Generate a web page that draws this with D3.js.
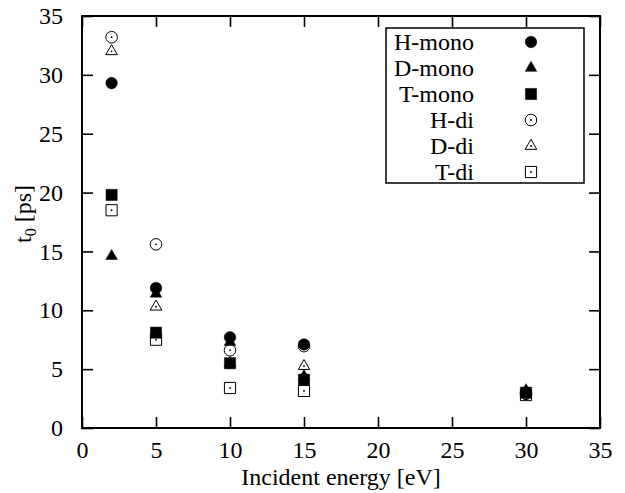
<!DOCTYPE html>
<html>
<head>
<meta charset="utf-8">
<style>
body { margin: 0; background: #fff; }
svg, svg text { font-family: "Liberation Serif", "Times New Roman", serif; }
.axis .domain { display: none; }
.axis line { stroke: #000; stroke-width: 1.6; }
.axis text { font-size: 24px; fill: #000; font-family: "Liberation Serif", "Times New Roman", serif; }
</style>
</head>
<body>
<svg width="625" height="493"></svg>
<script src="https://d3js.org/d3.v7.min.js"></script>
<script>

var energies = [2, 5, 10, 15, 30];
var seriesNames = ["H-mono", "D-mono", "T-mono", "H-di", "D-di", "T-di"];
var hMono = [29.3, 11.9, 7.7, 7.1, 3.0];
var dMono = [14.6, 11.4, 7.3, 4.4, 3.2];
var tMono = [19.8, 8.1, 5.5, 4.1, 3.0];
var hDi = [33.2, 15.6, 6.6, 6.95, 2.9];
var dDi = [32.0, 10.3, 5.5, 5.25, 3.0];
var tDi = [18.5, 7.5, 3.4, 3.15, 2.8];
var xTicks = [0, 5, 10, 15, 20, 25, 30, 35];
var yTicks = [0, 5, 10, 15, 20, 25, 30, 35];

var seriesValues = [hMono, dMono, tMono, hDi, dDi, tDi];
var shapes = ["circle", "triangle", "square", "circle", "triangle", "square"];
var filled = [true, true, true, false, false, false];

var svg = d3.select("svg"),
    margin = {top: 16, right: 25, bottom: 65, left: 82},
    width = +svg.attr("width") - margin.left - margin.right,
    height = +svg.attr("height") - margin.top - margin.bottom,
    g = svg.append("g").attr("transform", "translate(" + margin.left + "," + margin.top + ")");

var x = d3.scaleLinear().domain([0, 35]).range([0, width]);
var y = d3.scaleLinear().domain([0, 35]).range([height, 0]);

// axes with inward ticks, mirrored on top and right
g.append("g")
    .attr("class", "axis")
    .attr("transform", "translate(0," + height + ")")
    .call(d3.axisBottom(x).tickValues(xTicks).tickSize(-11).tickSizeOuter(0).tickPadding(13));
g.append("g")
    .attr("class", "axis")
    .call(d3.axisLeft(y).tickValues(yTicks).tickSize(-11).tickSizeOuter(0).tickPadding(19));
g.append("g")
    .attr("class", "axis")
    .call(d3.axisTop(x).tickValues(xTicks).tickSize(-11).tickSizeOuter(0).tickFormat(""));
g.append("g")
    .attr("class", "axis")
    .attr("transform", "translate(" + width + ",0)")
    .call(d3.axisRight(y).tickValues(yTicks).tickSize(-11).tickSizeOuter(0).tickFormat(""));
g.selectAll(".axis").attr("font-family", null);

g.append("rect")
    .attr("width", width)
    .attr("height", height)
    .attr("fill", "none")
    .attr("stroke", "#000")
    .attr("stroke-width", 2);

function symbolPath(shape) {
  if (shape === "circle") return d3.symbol().type(d3.symbolCircle).size(105)();
  if (shape === "triangle") return d3.symbol().type(d3.symbolTriangle).size(58)();
  return d3.symbol().type(d3.symbolSquare).size(125)();
}

function drawMarker(sel, i) {
  sel.append("path")
      .attr("d", symbolPath(shapes[i]))
      .attr("fill", filled[i] ? "#000" : "none")
      .attr("stroke", "#000")
      .attr("stroke-width", filled[i] ? 0.5 : 1);
  if (!filled[i]) {
    sel.append("circle").attr("r", 0.9).attr("fill", "#000");
  }
}

seriesValues.forEach(function(vals, i) {
  var s = g.append("g").attr("class", "series");
  energies.forEach(function(e, j) {
    var m = s.append("g")
        .attr("transform", "translate(" + x(e) + "," + y(vals[j]) + ")");
    drawMarker(m, i);
  });
});

// legend
var legend = svg.append("g").attr("transform", "translate(386,28)");
legend.append("rect")
    .attr("width", 198)
    .attr("height", 155)
    .attr("fill", "#fff")
    .attr("stroke", "#000")
    .attr("stroke-width", 1.5);
seriesNames.forEach(function(name, i) {
  var row = legend.append("g").attr("transform", "translate(0," + (14 + i * 26) + ")");
  row.append("text")
      .attr("x", 88)
      .attr("y", 8)
      .attr("text-anchor", "end")
      .style("font-size", "24px")
      .text(name);
  var m = row.append("g").attr("transform", "translate(145,0)");
  drawMarker(m, i);
});

// axis titles
svg.append("text")
    .attr("x", margin.left + width / 2)
    .attr("y", 485)
    .attr("text-anchor", "middle")
    .style("font-size", "24px")
    .text("Incident energy [eV]");

var yt = svg.append("text")
    .attr("transform", "translate(31,214) rotate(-90)")
    .attr("text-anchor", "middle")
    .style("font-size", "24px");
yt.append("tspan").text("t");
yt.append("tspan").attr("dy", 5).style("font-size", "16px").text("0");
yt.append("tspan").attr("dy", -5).text(" [ps]");

</script>
</body>
</html>
